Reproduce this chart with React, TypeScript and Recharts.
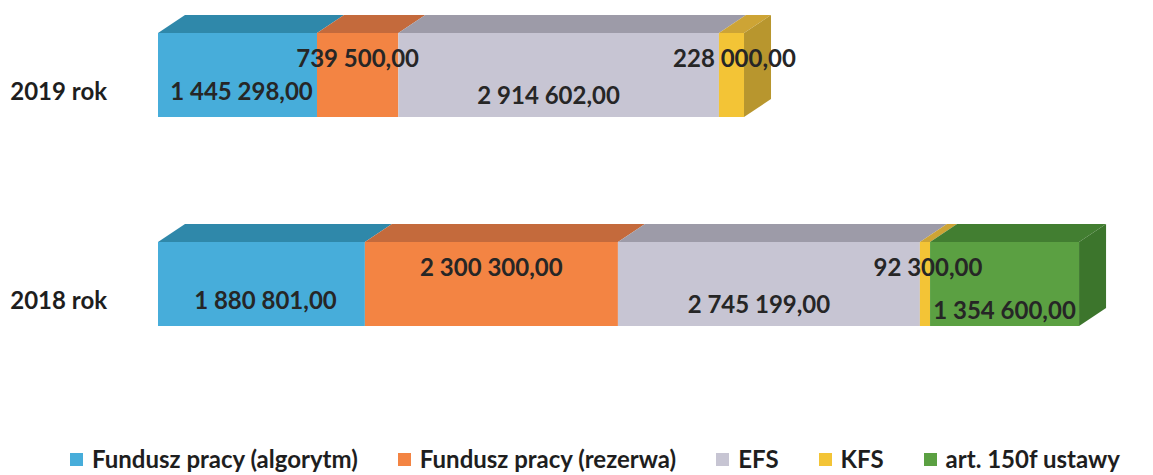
import React from 'react';
import { BarChart, Bar, XAxis, YAxis, Legend, LabelList } from 'recharts';

const years = ['2019 rok', '2018 rok'];
const algorytm = [1445298, 1880801];
const rezerwa = [739500, 2300300];
const efs = [2914602, 2745199];
const kfs = [228000, 92300];
const art150f = [0, 1354600];

const seriesDefs = [
  { key: 'algorytm', name: 'Fundusz pracy (algorytm)', values: algorytm, front: '#47ADDA', top: '#2F88AA', side: '#2A7C9C', dx: 4, dy: 15 },
  { key: 'rezerwa', name: 'Fundusz pracy (rezerwa)', values: rezerwa, front: '#F38443', top: '#C46A3C', side: '#B35F33', dx: 0, dy: -18 },
  { key: 'efs', name: 'EFS', values: efs, front: '#C7C5D3', top: '#9D9BA8', side: '#8F8D9A', dx: -10, dy: 19 },
  { key: 'kfs', name: 'KFS', values: kfs, front: '#F3C436', top: '#CDA435', side: '#B8962E', dx: 3, dy: -18 },
  { key: 'art150f', name: 'art. 150f ustawy', values: art150f, front: '#5BA042', top: '#427E31', side: '#3C752C', dx: 0, dy: 25 },
];

const data = years.map((y, i) => {
  const row: any = { year: y };
  seriesDefs.forEach((s) => { row[s.key] = s.values[i]; });
  return row;
});

const DX = 27;
const DY = 18;

const fmt = (v: number) =>
  Math.round(v).toString().replace(/\B(?=(\d{3})+(?!\d))/g, ' ') + ',00';

const makeShape = (idx: number) => (props: any) => {
  const { x, y, width, height, payload } = props;
  const s = seriesDefs[idx];
  if (!width || width <= 0) return <g />;
  const isLast = seriesDefs.slice(idx + 1).every((d) => !payload[d.key]);
  return (
    <g>
      <rect x={x} y={y} width={width} height={height} fill={s.front} />
      <polygon
        points={`${x},${y} ${x + DX},${y - DY} ${x + width + DX},${y - DY} ${x + width},${y}`}
        fill={s.top}
      />
      {isLast && (
        <polygon
          points={`${x + width},${y} ${x + width + DX},${y - DY} ${x + width + DX},${y + height - DY} ${x + width},${y + height}`}
          fill={s.side}
        />
      )}
    </g>
  );
};

const makeLabel = (dx: number, dy: number) => (p: any) => {
  const { x, y, width, height, value } = p;
  if (!value) return null;
  return (
    <text
      x={Number(x) + Number(width) / 2 + dx}
      y={Number(y) + Number(height) / 2 + dy}
      textAnchor="middle"
      dominantBaseline="central"
      style={{ fontFamily: 'Lato', fontWeight: 700, fontSize: 24, fill: '#262626' }}
    >
      {fmt(value)}
    </text>
  );
};

const YTick = (props: any) => {
  const { y, payload } = props;
  return (
    <text
      x={99}
      y={y + 16}
      textAnchor="end"
      dominantBaseline="central"
      style={{ fontFamily: 'Lato', fontWeight: 700, fontSize: 24, fill: '#1E1E1E' }}
    >
      {payload.value}
    </text>
  );
};

const LegendContent = () => (
  <div style={{ display: 'flex', alignItems: 'center', height: 30, paddingLeft: 62, fontFamily: 'Lato', fontWeight: 700, fontSize: 24, color: '#1E1E1E', whiteSpace: 'nowrap' }}>
    {seriesDefs.map((s, i) => (
      <div key={s.key} style={{ display: 'flex', alignItems: 'center', marginRight: i < seriesDefs.length - 1 ? 40 : 0 }}>
        <span style={{ display: 'inline-block', width: 13, height: 13, background: s.front, marginRight: 9, marginTop: 3 }} />
        <span>{s.name}</span>
      </div>
    ))}
  </div>
);

const W = 1145;
const H = 467;
const margin = { top: -38, right: 5, bottom: 87, left: 0 };

export default function App() {
  return (
    <div style={{ position: 'relative', width: W, height: H }}>
      <div style={{ position: 'absolute', left: 0, top: 0 }}>
        <BarChart width={W} height={H} layout="vertical" data={data} margin={margin}>
          <XAxis type="number" domain={[0, 9000000]} hide />
          <YAxis type="category" dataKey="year" width={150} axisLine={false} tickLine={false} tick={<YTick />} />
          {seriesDefs.map((s, i) => (
            <Bar key={s.key} dataKey={s.key} name={s.name} stackId="a" barSize={84} fill={s.front} shape={makeShape(i)} isAnimationActive={false} />
          ))}
          <Legend
            layout="horizontal"
            verticalAlign="middle"
            align="center"
            content={<LegendContent />}
            wrapperStyle={{ position: 'absolute', top: 435, left: 0, width: W, height: 30 }}
          />
        </BarChart>
      </div>
      <div style={{ position: 'absolute', left: 0, top: 0, pointerEvents: 'none' }}>
        <BarChart width={W} height={H} layout="vertical" data={data} margin={margin}>
          <XAxis type="number" domain={[0, 9000000]} hide />
          <YAxis type="category" dataKey="year" width={150} axisLine={false} tickLine={false} tick={false} />
          {seriesDefs.map((s) => (
            <Bar key={s.key} dataKey={s.key} stackId="a" barSize={84} fill="transparent" isAnimationActive={false}>
              <LabelList dataKey={s.key} content={makeLabel(s.dx, s.dy)} />
            </Bar>
          ))}
        </BarChart>
      </div>
    </div>
  );
}
